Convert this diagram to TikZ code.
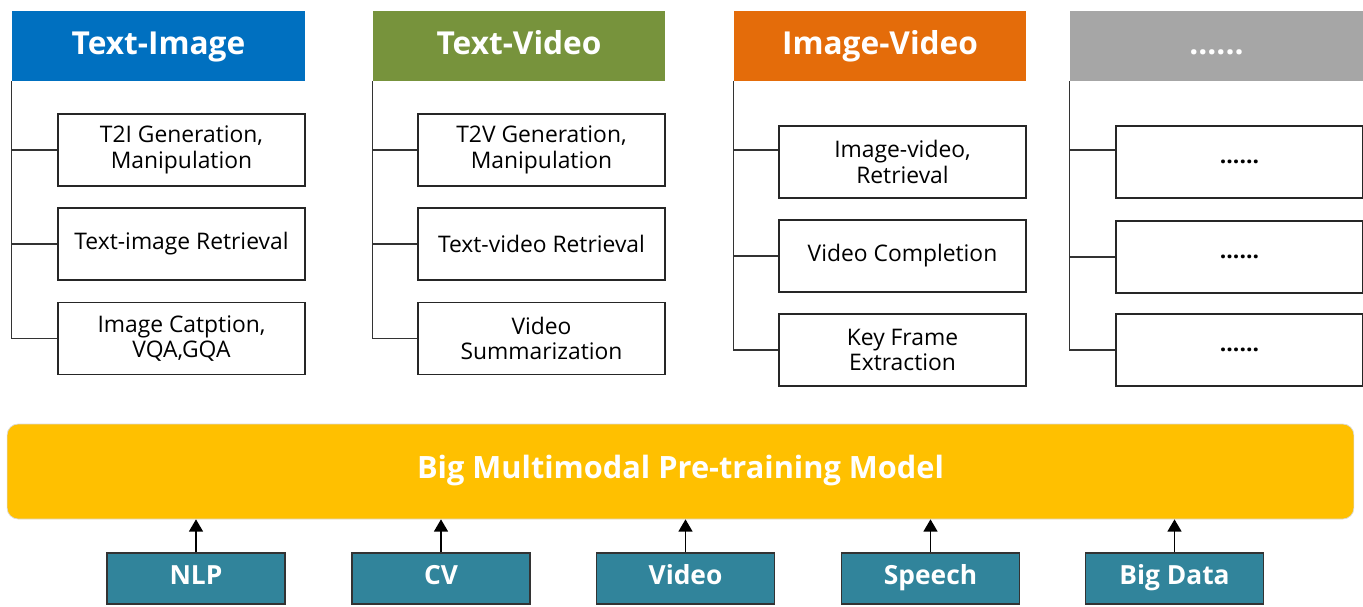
\documentclass[tikz,border=0pt]{standalone}
\usepackage{fontspec}
\setmainfont{Open Sans}
\usetikzlibrary{arrows.meta}
\definecolor{tiblue}{HTML}{0070C0}
\definecolor{tvgreen}{HTML}{77933C}
\definecolor{ivorange}{HTML}{E46C0A}
\definecolor{moregray}{HTML}{A6A6A6}
\definecolor{modelyellow}{HTML}{FFC000}
\definecolor{srcteal}{HTML}{31849B}
\begin{document}
\begin{tikzpicture}[x=0.02cm,y=-0.02cm]
  \tikzstyle{head}=[minimum width=5.86cm, minimum height=1.4cm, inner sep=0pt, text height=1em, text depth=0em, text=white, font=\fontsize{18}{21}\selectfont\bfseries];
  \tikzstyle{task}=[draw=black!85, line width=0.8pt, fill=white, minimum width=4.94cm, minimum height=1.44cm, inner sep=0pt, align=center, font=\fontsize{13}{14.7}\selectfont];
  \tikzstyle{source}=[draw=black!80, line width=0.8pt, fill=srcteal, minimum width=3.56cm, minimum height=1.02cm, inner sep=0pt, text height=0.8em, text depth=0.15em, text=white, font=\fontsize{15}{17}\selectfont\bfseries];
  \tikzstyle{branch}=[line width=0.7pt, black!80];
  \useasboundingbox (0,0) rectangle (1363,606);

  % categories
  \node (ti) [head, fill=tiblue] at (158.5, 46) {Text-Image};
  \node (tv) [head, fill=tvgreen] at (519, 46) {Text-Video};
  \node (iv) [head, fill=ivorange] at (880, 46) {Image-Video};
  \node (mo) [head, fill=moregray] at (1216.5, 46) {......};

  % tasks
  \node (ti1) [task] at (181.5, 150) {T2I Generation,\\Manipulation};
  \node (ti2) [task] at (181.5, 244) {Text-image Retrieval};
  \node (ti3) [task] at (181.5, 338.5) {Image Catption,\\VQA,GQA};

  \node (tv1) [task] at (541.5, 150) {T2V Generation,\\Manipulation};
  \node (tv2) [task] at (541.5, 244) {Text-video Retrieval};
  \node (tv3) [task] at (541.5, 338.5) {Video\\Summarization};

  \node (iv1) [task] at (902.5, 162) {Image-video,\\Retrieval};
  \node (iv2) [task] at (902.5, 256) {Video Completion};
  \node (iv3) [task] at (902.5, 350) {Key Frame\\Extraction};

  \node (mo1) [task] at (1239.5, 162) {\textbf{......}};
  \node (mo2) [task] at (1239.5, 257) {\textbf{......}};
  \node (mo3) [task] at (1239.5, 350) {\textbf{......}};

  % tree lines
  \foreach \c in {ti,tv}
    \foreach \t in {1,2,3}
      \draw [branch] (\c.south west) |- (\c\t.west);
  \foreach \c in {iv,mo}
  {
    \draw [branch] (\c.south west) |- ([yshift=0.24cm]\c1.west);
    \draw [branch] (\c.south west) |- (\c2.west);
    \draw [branch] (\c.south west) |- (\c3.west);
  }

  % model
  \node (model) [draw=black!15, fill=modelyellow, rounded corners=0.22cm, minimum width=26.94cm, minimum height=1.9cm, text height=0.85em, text depth=0.1em, text=white, font=\fontsize{17.5}{20}\selectfont\bfseries] at (680.5, 471.5) {Big Multimodal Pre-training Model};

  % sources
  \foreach \n/\x/\lbl in {nlp/196/NLP, cv/441/CV, video/685.5/Video, speech/930.5/Speech, data/1174.5/Big Data}
  {
    \node (\n) [source] at (\x, 578.5) {\lbl};
    \draw [line width=0.8pt, -{Triangle[width=8pt,length=7pt]}] (\n.north) -- (\n |- model.south);
  }
\end{tikzpicture}
\end{document}
